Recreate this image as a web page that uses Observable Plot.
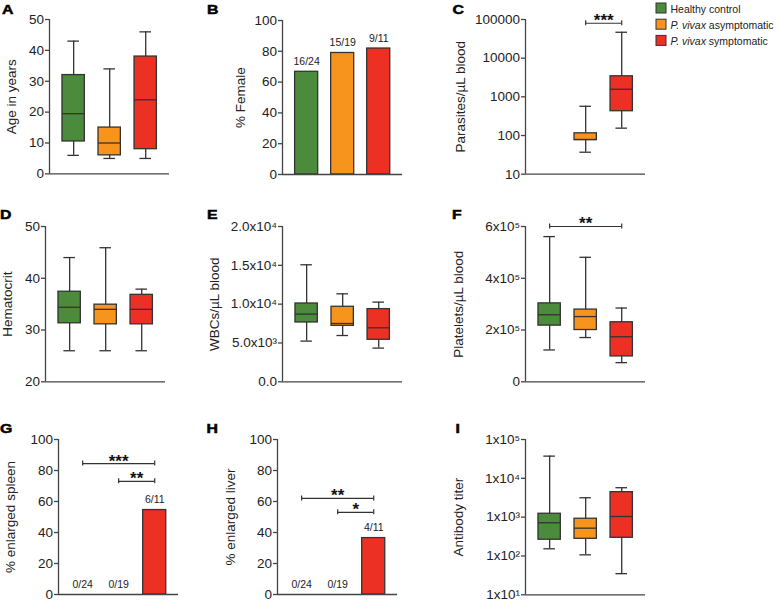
<!DOCTYPE html>
<html><head><meta charset="utf-8">
<script src="https://cdn.jsdelivr.net/npm/d3@7"></script>
<script src="https://cdn.jsdelivr.net/npm/@observablehq/plot@0.6"></script>
<style>
body{margin:0;background:#fff;}
#fig{position:relative;width:778px;height:601px;overflow:hidden;background:#fff;}
#fig svg.plotpanel{position:absolute;}
</style></head><body><div id="fig"></div>
<script>
const groups = ["Healthy control", "P. vivax asymptomatic", "P. vivax symptomatic"];
const groupColors = ["#4b8b3b", "#f7941e", "#ed3024"];

// box stats per group: [min, q1, median, q3, max]
const ageStats = [[6, 10.5, 19.5, 32, 43], [5, 6, 10, 15, 34], [5, 8, 24, 38, 46]];
const parasiteStats = [null, [37, 76, 79, 114, 570], [155, 425, 1570, 3400, 46800]];
const hctStats = [[26, 31.3, 34.4, 37.4, 44], [26, 31.1, 34, 34.9, 45.9], [26, 31.1, 34, 36.8, 37.9]];
const wbcStats = [[5240, 7640, 8720, 10085, 15070], [5960, 7210, 7510, 9660, 11330], [4340, 5410, 6955, 9360, 10260]];
const pltStats = [[123000, 217000, 259000, 303000, 561000], [171000, 200000, 252000, 279000, 481000], [74000, 98000, 174000, 230000, 285000]];
const titerStats = [[153, 262, 717, 1224, 37300], [107, 277, 520, 910, 3160], [35, 294, 1040, 4400, 5730]];

// bar panels
const femalePct = [66.7, 78.9, 81.8];
const femaleLabels = ["16/24", "15/19", "9/11"];
const spleenPct = [0, 0, 54.5];
const spleenLabels = ["0/24", "0/19", "6/11"];
const liverPct = [0, 0, 36.4];
const liverLabels = ["0/24", "0/19", "4/11"];

// significance brackets: [from group, to group, y value, stars]
const parasiteSig = [[2, 3, 80000, "***"]];
const pltSig = [[1, 3, 600000, "**"]];
const spleenSig = [[1, 3, 84.5, "***"], [2, 3, 73, "**"]];
const liverSig = [[1, 3, 62, "**"], [2, 3, 53, "*"]];

// ticks
const ageTicks = [0, 10, 20, 30, 40, 50];
const pctTicks = [0, 20, 40, 60, 80, 100];
const parasiteTicks = [10, 100, 1000, 10000, 100000];
const parasiteTickLabels = ["10", "100", "1000", "10000", "100000"];
const hctTicks = [20, 30, 40, 50];
const wbcTicks = [0, 5000, 10000, 15000, 20000];
const wbcTickLabels = ["0.0", "5.0x10³", "1.0x10⁴", "1.5x10⁴", "2.0x10⁴"];
const pltTicks = [0, 200000, 400000, 600000];
const pltTickLabels = ["0", "2x10⁵", "4x10⁵", "6x10⁵"];
const titerTicks = [10, 100, 1000, 10000, 100000];
const titerTickLabels = ["1x10¹", "1x10²", "1x10³", "1x10⁴", "1x10⁵"];

const FONT = '"Liberation Sans", Arial, Helvetica, sans-serif';
const STROKE = "#333";
const AXIS = "#444";
const XD = [0.33, 3.66];
const PW = 120;
const TICKFONT = 13.5;

function boxRows(stats) {
  return stats.map((s, k) => s ? {i: k + 1, g: groups[k], min: s[0], q1: s[1], med: s[2], q3: s[3], max: s[4]} : null).filter(Boolean);
}
function barRows(vals, labels) {
  return vals.map((v, k) => ({i: k + 1, g: groups[k], v, label: labels[k]}));
}
function sigRows(sig) {
  return sig.map(s => ({a: s[0], b: s[1], y: s[2], s: s[3], m: (s[0] + s[1]) / 2}));
}

const panels = [
  {axisX: 49.3, top: 19.3, bottom: 173.7, box: ageStats, domain: [0, 50], ticks: ageTicks, label: "Age in years", labelDx: -38},
  {axisX: 281.7, top: 20, bottom: 174, bars: femalePct, barLabels: femaleLabels, domain: [0, 100], ticks: pctTicks, label: "% Female", labelDx: -42},
  {axisX: 525, top: 19.3, bottom: 174, box: parasiteStats, type: "log", domain: [10, 100000], ticks: parasiteTicks, tickLabels: parasiteTickLabels, label: "Parasites/µL blood", labelDx: -65, sig: parasiteSig},
  {axisX: 45, top: 225.7, bottom: 381, box: hctStats, domain: [20, 50], ticks: hctTicks, label: "Hematocrit", labelDx: -37.5},
  {axisX: 281.7, top: 225.7, bottom: 381, box: wbcStats, domain: [0, 20000], ticks: wbcTicks, tickLabels: wbcTickLabels, label: "WBCs/µL blood", labelDx: -67.5},
  {axisX: 525, top: 225.7, bottom: 381, box: pltStats, domain: [0, 600000], ticks: pltTicks, tickLabels: pltTickLabels, label: "Platelets/µL blood", labelDx: -66.5, sig: pltSig},
  {axisX: 57.7, top: 439, bottom: 594, bars: spleenPct, barLabels: spleenLabels, domain: [0, 100], ticks: pctTicks, label: "% enlarged spleen", labelDx: -48, sig: spleenSig},
  {axisX: 277.3, top: 439, bottom: 594, bars: liverPct, barLabels: liverLabels, domain: [0, 100], ticks: pctTicks, label: "% enlarged liver", labelDx: -47, sig: liverSig},
  {axisX: 525, top: 439, bottom: 594.3, box: titerStats, type: "log", domain: [10, 100000], ticks: titerTicks, tickLabels: titerTickLabels, label: "Antibody titer", labelDx: -66.5}
];

const fig = document.getElementById("fig");
const hasAxisMark = typeof Plot.axisY === "function";

for (const p of panels) {
  const ml = Math.min(80, Math.floor(p.axisX));
  const mt = 20, mb = 8, mr = 6;
  const h = p.bottom - p.top;
  const tl = p.tickLabels;
  const fmt = tl ? (d => tl[p.ticks.indexOf(d)]) : (d => String(d));
  const marks = [];
  if (p.box) {
    const rows = boxRows(p.box);
    marks.push(
      Plot.ruleX(rows, {x: "i", y1: "min", y2: "max", stroke: STROKE, strokeWidth: 1.3}),
      Plot.ruleY(rows, {y: "min", x1: d => d.i - 0.16, x2: d => d.i + 0.16, stroke: STROKE, strokeWidth: 1.3}),
      Plot.ruleY(rows, {y: "max", x1: d => d.i - 0.16, x2: d => d.i + 0.16, stroke: STROKE, strokeWidth: 1.3}),
      Plot.rectY(rows, {x1: d => d.i - 0.31, x2: d => d.i + 0.31, y1: "q1", y2: "q3", fill: "g", stroke: STROKE, strokeWidth: 1.3}),
      Plot.ruleY(rows, {y: "med", x1: d => d.i - 0.31, x2: d => d.i + 0.31, stroke: STROKE, strokeWidth: 1.3})
    );
  }
  if (p.bars) {
    const rows = barRows(p.bars, p.barLabels);
    marks.push(
      Plot.rectY(rows.filter(d => d.v > 0), {x1: d => d.i - 0.32, x2: d => d.i + 0.32, y1: 0, y2: "v", fill: "g", stroke: STROKE, strokeWidth: 1.3}),
      Plot.text(rows, {x: "i", y: "v", text: "label", lineAnchor: "bottom", dy: -7, fontSize: 10.5, fill: "#222"})
    );
  }
  if (p.sig) {
    const rows = sigRows(p.sig);
    marks.push(
      Plot.ruleY(rows, {y: "y", x1: "a", x2: "b", stroke: STROKE, strokeWidth: 1.2}),
      Plot.ruleX(rows, {x: "a", y1: "y", y2: "y", insetTop: -2.5, insetBottom: -2.5, stroke: STROKE, strokeWidth: 1.2}),
      Plot.ruleX(rows, {x: "b", y1: "y", y2: "y", insetTop: -2.5, insetBottom: -2.5, stroke: STROKE, strokeWidth: 1.2}),
      Plot.text(rows, {x: "m", y: "y", text: "s", lineAnchor: "bottom", dy: 3, fontSize: 17, fontWeight: "bold", fill: "#111"})
    );
  }
  if (hasAxisMark) {
    marks.push(Plot.axisY(p.ticks, {tickFormat: fmt, tickSize: 4, tickPadding: 1.5, fontSize: TICKFONT, strokeWidth: 1.3, stroke: AXIS, fill: "#222", label: null}));
  }
  marks.push(
    Plot.ruleX([XD[0]], {stroke: AXIS, strokeWidth: 1.3}),
    Plot.ruleY([p.domain[0]], {stroke: AXIS, strokeWidth: 1.3}),
    Plot.text([p.label], {frameAnchor: "left", textAnchor: "middle", rotate: -90, dx: p.labelDx, fontSize: 13.5, fill: "#222", text: d => d})
  );
  const svg = Plot.plot({
    width: ml + PW + mr,
    height: mt + h + mb,
    marginLeft: ml, marginRight: mr, marginTop: mt, marginBottom: mb,
    style: {background: "transparent", fontFamily: FONT, fontSize: TICKFONT + "px", color: "#333", overflow: "visible"},
    x: {domain: XD, axis: null},
    y: hasAxisMark
      ? {type: p.type || "linear", domain: p.domain, label: null}
      : {type: p.type || "linear", domain: p.domain, ticks: p.ticks, tickFormat: fmt, tickSize: 4, tickPadding: 1.5, label: null},
    color: {domain: groups, range: groupColors},
    marks
  });
  // make sure tick labels use the intended size in any version
  d3.select(svg).selectAll('g[aria-label^="y-axis"] text').style("font-size", TICKFONT + "px");
  svg.classList.add("plotpanel");
  svg.style.left = (p.axisX - ml) + "px";
  svg.style.top = (p.top - mt) + "px";
  fig.appendChild(svg);
}

// overlay: panel letters and legend
const letters = [["A", 2, 14], ["B", 207, 14], ["C", 452.5, 14], ["D", 0, 219], ["E", 207, 219], ["F", 452, 219], ["G", 0, 433], ["H", 206.5, 433], ["I", 455.5, 433]];
const overlay = d3.select(fig).append("svg")
  .attr("width", 778).attr("height", 601)
  .style("position", "absolute").style("left", 0).style("top", 0)
  .style("font-family", FONT);
overlay.selectAll("text.letter").data(letters).join("text")
  .attr("class", "letter")
  .attr("transform", d => `translate(${d[1]},${d[2]}) scale(1.22,1)`)
  .attr("font-size", 13).attr("font-weight", "bold")
  .attr("stroke", "#000").attr("stroke-width", 0.5).attr("fill", "#000")
  .text(d => d[0]);

const leg = overlay.selectAll("g.leg").data(groups).join("g").attr("class", "leg")
  .attr("transform", (d, k) => `translate(656,${3 + 16.2 * k})`);
leg.append("rect").attr("width", 10).attr("height", 10)
  .attr("fill", (d, k) => groupColors[k]).attr("stroke", STROKE).attr("stroke-width", 1);
leg.append("text").attr("x", 14.5).attr("y", 9.5).attr("font-size", 10.5).attr("fill", "#222")
  .each(function(d) {
    const t = d3.select(this);
    if (d.startsWith("P. vivax")) {
      t.append("tspan").attr("font-style", "italic").text("P. vivax");
      t.append("tspan").text(d.slice(8));
    } else t.text(d);
  });
</script></body></html>
